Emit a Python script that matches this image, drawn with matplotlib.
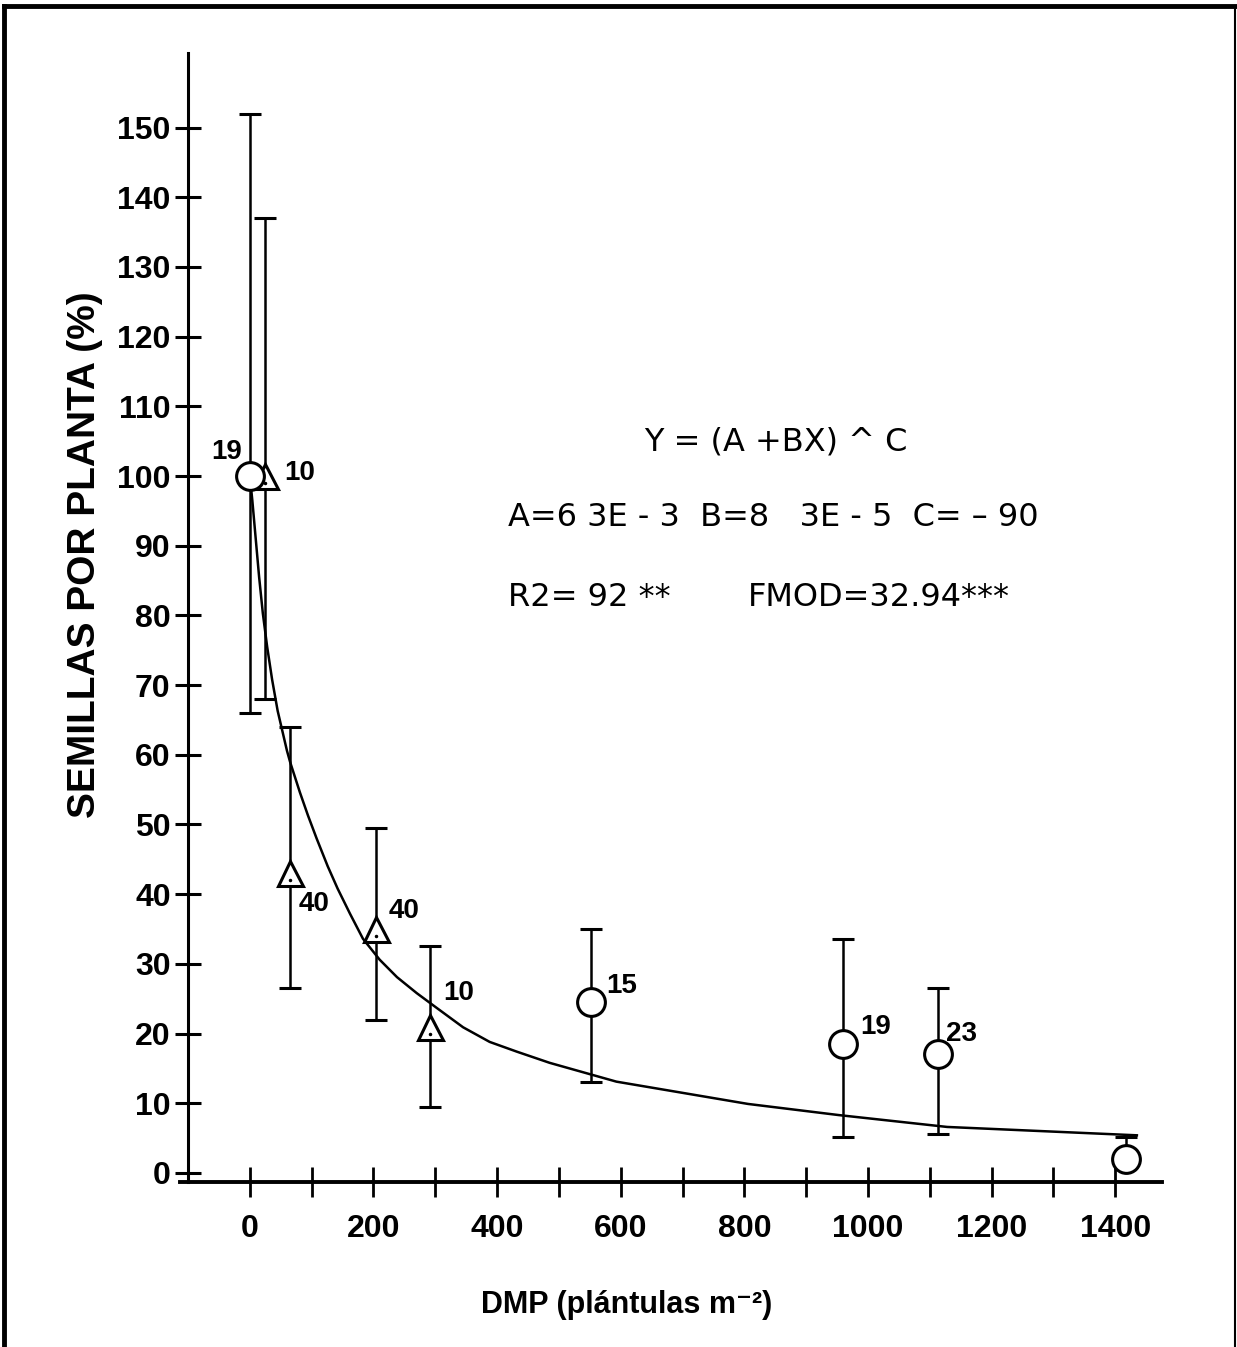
import matplotlib
matplotlib.use("Agg")
import matplotlib.pyplot as plt
from matplotlib.lines import Line2D

plt.rcParams['font.family'] = ['Liberation Sans', 'DejaVu Sans']

# plant density (plantulas m-2), mean seeds per plant (%), error bar limits
dens = [0, 25, 65, 204, 291, 552, 960, 1113, 1418]
seeds = [100, 100, 43, 35, 21, 24.5, 18.5, 17, 2]
low = [66, 68, 26.5, 22, 9.5, 13, 5.2, 5.6, 2]
high = [152, 137, 64, 49.5, 32.5, 35, 33.5, 26.5, 5.2]
kind = ['o', '^', '^', '^', '^', 'o', 'o', 'o', 'o']
n_obs = ['19', '10', '40', '40', '10', '15', '19', '23', '']

# fitted curve
curve_x = [0, 4, 9, 15, 21, 28, 36, 45, 60, 65, 81, 94, 108, 126, 142, 162, 183,
           210, 238, 270, 302, 345, 388, 432, 485, 593, 806, 953, 1128, 1435]
curve_y = [100, 96.5, 91.5, 85.5, 80.3, 75.5, 70.8, 66.3, 60.6, 59.0, 54.6, 51.3,
           48.0, 44.0, 40.8, 37.2, 33.6, 30.6, 28.1, 25.8, 23.7, 20.9, 18.8, 17.4,
           15.8, 13.1, 9.9, 8.3, 6.6, 5.4]

yticks = list(range(0, 151, 10))
xticks_major = [0, 200, 400, 600, 800, 1000, 1200, 1400]
xticks_minor = [100, 300, 500, 700, 900, 1100, 1300]

# label offsets (points) for the n values
lab_off = [(-17, 17), (25, 2), (17, -22), (20, 13), (21, 24), (22, 12), (23, 12), (17, 15), (0, 0)]

W, H = 1237, 1347
fig = plt.figure(figsize=(W / 100, H / 100), dpi=100)
ax = fig.add_axes([180 / W, 1 - 1182 / H, (1161.6 - 180) / W, (1182 - 53) / H])

ax.plot(curve_x, curve_y, color='black', lw=1.8, zorder=2)

# triangles first so the big circle sits on top
order = [1, 2, 3, 4, 0, 5, 6, 7, 8]
for i in order:
    yerr = [[seeds[i] - low[i]], [high[i] - seeds[i]]]
    ms = 20 if kind[i] == 'o' else 18
    ax.errorbar([dens[i]], [seeds[i]], yerr=yerr, fmt=kind[i], ms=ms,
                mfc='white', mec='black', mew=2.2, ecolor='black',
                elinewidth=1.8, capsize=8, capthick=2.2, zorder=3)
    if kind[i] == '^':
        ax.plot([dens[i]], [seeds[i] - 1], marker='.', ms=3, color='black', zorder=5)
    if n_obs[i]:
        ax.annotate(n_obs[i], (dens[i], seeds[i]), xytext=lab_off[i],
                    textcoords='offset points', ha='center', va='center',
                    fontsize=20, fontweight='bold')

eq_font = dict(fontsize=23, family=['DejaVu Sans'])
ax.text(851, 104.9, 'Y = (A +BX) ^ C', ha='center', va='center', **eq_font)
ax.text(417, 94, 'A=6 3E - 3  B=8   3E - 5  C= \u2013 90', ha='left', va='center', **eq_font)
ax.text(417, 82.6, 'R2= 92 **', ha='left', va='center', **eq_font)
ax.text(806, 82.6, 'FMOD=32.94***', ha='left', va='center', **eq_font)

ax.set_xlim(-113, 1475)
ax.set_ylim(-1.3, 160.7)
ax.spines['top'].set_visible(False)
ax.spines['right'].set_visible(False)
ax.spines['left'].set_position(('data', -100))
ax.spines['left'].set_linewidth(2.2)
ax.spines['bottom'].set_linewidth(2.8)

ax.set_yticks(yticks)
ax.set_xticks(xticks_major)
ax.set_xticks(xticks_minor, minor=True)
ax.tick_params(axis='y', direction='inout', length=19, width=2.2, pad=3,
               labelsize=23)
ax.tick_params(axis='x', which='both', direction='inout', length=22, width=2,
               pad=12, labelsize=23)
for lab in ax.get_xticklabels() + ax.get_yticklabels():
    lab.set_fontweight('bold')

fig.text(85 / W, 1 - 555 / H, 'SEMILLAS POR PLANTA (%)', rotation=90,
         ha='center', va='center', fontsize=28, fontweight='bold')
fig.text(627 / W, 1 - 1305 / H, 'DMP (plántulas m\u207b\u00b2)',
         ha='center', va='center', fontsize=22, fontweight='bold')

# border of the scanned figure
fig.add_artist(Line2D([4 / W, 4 / W], [0, 1 - 6 / H], color='black', lw=3.5))
fig.add_artist(Line2D([4 / W, 1235 / W], [1 - 6 / H, 1 - 6 / H], color='black', lw=3.5))
fig.add_artist(Line2D([1235 / W, 1235 / W], [0, 1 - 6 / H], color='black', lw=1.5))

fig.savefig('out.png', dpi=100)
